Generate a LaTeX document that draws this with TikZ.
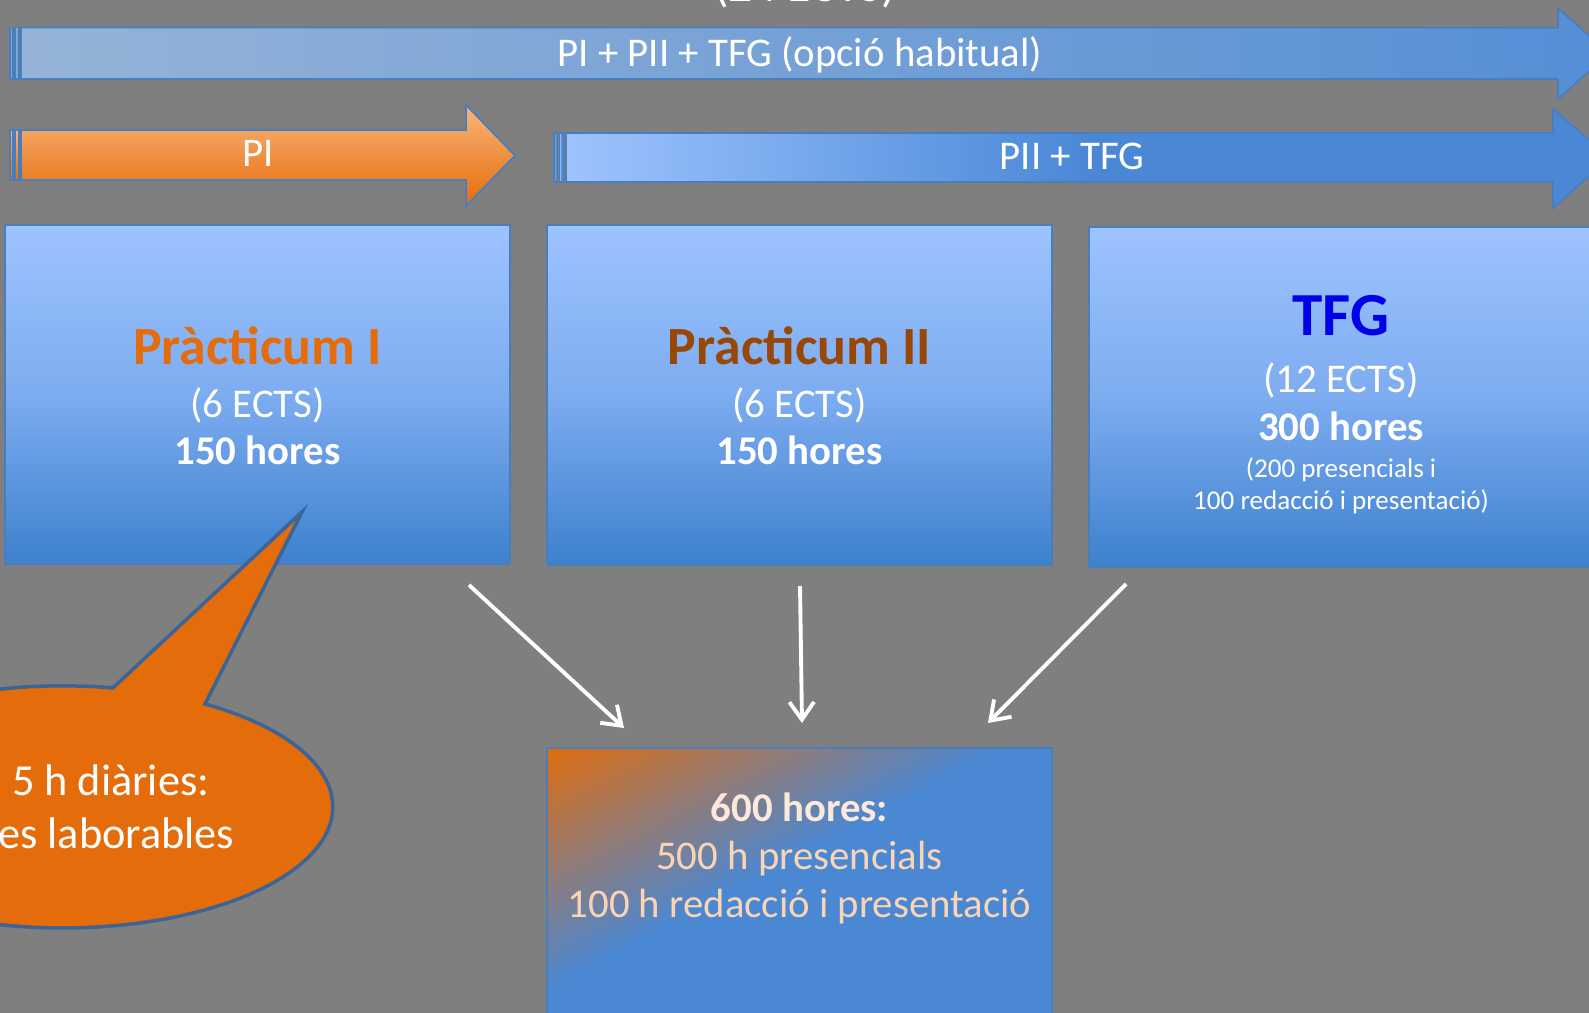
\documentclass[tikz,border=0pt]{standalone}
\usepackage{fontspec}
\setmainfont{Carlito}
\usetikzlibrary{arrows.meta,shadows}
\definecolor{bg}{HTML}{7F7F7F}
\definecolor{edgeblue}{HTML}{4A7EBB}
\definecolor{boxtop}{HTML}{9DC3FF}
\definecolor{boxmid}{HTML}{7DACF0}
\definecolor{boxbot}{HTML}{3D81CD}
\definecolor{orng}{HTML}{E46C0A}
\definecolor{orngl}{HTML}{F9B57A}
\definecolor{brwn}{HTML}{984806}
\definecolor{tfgblue}{HTML}{0000E8}
\definecolor{arrL}{HTML}{95B3D7}
\definecolor{arrR}{HTML}{558ED5}
\definecolor{piiL}{HTML}{9DC3FF}
\definecolor{piiR}{HTML}{4A88D6}
\definecolor{peach}{HTML}{FBD4B4}
\definecolor{peachl}{HTML}{FDE9D9}
\definecolor{totblue}{HTML}{4A88D4}
\definecolor{totmid}{HTML}{A27868}
\definecolor{callborder}{HTML}{3C6494}
\tikzset{
  shd/.style={drop shadow={shadow xshift=0.02cm, shadow yshift=-0.04cm, opacity=0.35}},
  bigbox/.style={draw=edgeblue, line width=0.5pt, top color=boxtop, bottom color=boxbot, middle color=boxmid, inner sep=0pt, outer sep=0pt, anchor=north west, shd},
  conn/.style={draw=white, line width=1.1pt, -{Straight Barb[length=5pt,width=7pt]}},
  lbl/.style={inner sep=0pt, anchor=base, text=white},
  f24/.style={font=\fontsize{11.6pt}{14pt}\selectfont},
  f24b/.style={font=\fontsize{11.6pt}{14pt}\selectfont\bfseries},
  f32b/.style={font=\fontsize{15.3pt}{18pt}\selectfont\bfseries},
  f36b/.style={font=\fontsize{17.4pt}{21pt}\selectfont\bfseries},
  f16/.style={font=\fontsize{7.7pt}{9pt}\selectfont},
  f26/.style={font=\fontsize{12.6pt}{15pt}\selectfont},
  f28/.style={font=\fontsize{13.6pt}{16pt}\selectfont},
  toparr/.style={draw=edgeblue, line width=0.5pt, left color=arrL, right color=arrR, shd},
  piarr/.style={draw=edgeblue, line width=0.5pt, top color=orngl, bottom color=orng, shd},
  piiarr/.style={draw=edgeblue, line width=0.5pt, left color=piiL, right color=piiR, middle color=piiR, shd},
  callout/.style={draw=callborder, line width=1pt, fill=orng}
}
\begin{document}
\begin{tikzpicture}[x=0.01cm,y=0.01cm]
\useasboundingbox (0,0) rectangle (1589,-1013);
\clip (0,0) rectangle (1589,-1013);
\fill[bg] (0,0) rectangle (1589,-1013);

% cut-off title
\node[lbl, f28, drop shadow={shadow xshift=0.02cm, shadow yshift=-0.02cm, opacity=0.5}] (ttl) at (805,-2) {(24 ECTS)};

% top striped arrow
\path[toparr] (10,-27.4) rectangle (13,-79);
\path[toparr] (15,-27.4) rectangle (19,-79);
\path[toparr] (21,-27.4) -- (1558,-27.4) -- (1558,-8) -- (1609,-53.5) -- (1558,-99) -- (1558,-79) -- (21,-79) -- cycle;
\node[lbl, f24] (toplbl) at (800,-67) {PI + PII + TFG (opció habitual)};

% PI arrow
\path[piarr] (10,-130) rectangle (13,-180);
\path[piarr] (15,-130) rectangle (19,-180);
\path[piarr] (21,-130) -- (466,-130) -- (466,-105) -- (515,-155.5) -- (466,-206) -- (466,-180) -- (21,-180) -- cycle;
\node[lbl, f24] (pilbl) at (258,-167) {PI};

% PII + TFG arrow
\path[piiarr] (554,-133) rectangle (557.5,-182);
\path[piiarr] (559.5,-133) rectangle (563.5,-182);
\path[piiarr] (566,-133) -- (1553,-133) -- (1553,-109) -- (1610,-157.5) -- (1553,-208) -- (1553,-182) -- (566,-182) -- cycle;
\node[lbl, f24] (piilbl) at (1072,-170) {PII + TFG};

% boxes
\node[bigbox, minimum width=5.05cm, minimum height=3.39cm] (box1) at (5,-225) {};
\node[bigbox, minimum width=5.05cm, minimum height=3.40cm] (box2) at (547,-225) {};
\node[bigbox, minimum width=5.11cm, minimum height=3.40cm] (box3) at (1089,-227) {};

\node[lbl, f32b, text=orng] (p1t) at (257.5,-365) {Pràcticum I};
\node[lbl, f24] (p1e) at (257.5,-418) {(6 ECTS)};
\node[lbl, f24b] (p1h) at (257.5,-465) {150 hores};

\node[lbl, f32b, text=brwn] (p2t) at (799.5,-365) {Pràcticum II};
\node[lbl, f24] (p2e) at (799.5,-418) {(6 ECTS)};
\node[lbl, f24b] (p2h) at (799.5,-465) {150 hores};

\node[lbl, f36b, text=tfgblue] (tt) at (1341,-336) {TFG};
\node[lbl, f24] (te) at (1341,-393) {(12 ECTS)};
\node[lbl, f24b] (th) at (1341,-441) {300 hores};
\node[lbl, f16] (td1) at (1341,-477) {(200 presencials i};
\node[lbl, f16] (td2) at (1341,-509) {100 redacció i presentació)};

% total box
\node[draw=edgeblue, line width=0.5pt, fill=totblue, inner sep=0pt, outer sep=0pt, anchor=north west, minimum width=5.05cm, minimum height=2.82cm, shd] (tot) at (547,-748) {};
\begin{scope}
  \clip (tot.south west) rectangle (tot.north east);
  \begin{scope}[transform canvas={shift={(547,-748)}, rotate=-62}]
    \shade[left color=orng, middle color=totmid, right color=totblue] (-5,-900) rectangle (215,900);
  \end{scope}
\end{scope}
\draw[edgeblue, line width=0.5pt] (tot.south west) rectangle (tot.north east);
\node[lbl, f24b, text=peachl] (h600) at (799.5,-821) {600 hores:};
\node[lbl, f24, text=peach] (h500) at (799.5,-869.5) {500 h presencials};
\node[lbl, f24, text=peach] (h100) at (799.5,-917) {100 h redacció i presentació};

% connectors
\coordinate (a1s) at (469,-585);
\coordinate (a1e) at (624,-728);
\coordinate (a2s) at (800,-586);
\coordinate (a2e) at (802,-723);
\coordinate (a3s) at (1126,-584);
\coordinate (a3e) at (988,-723);
\draw[conn] (a1s) -- (a1e);
\draw[conn] (a2s) -- (a2e);
\draw[conn] (a3s) -- (a3e);

% callout
\draw[callout] (205,-704) arc[start angle=58.2, end angle=-280.7, x radius=2.70cm, y radius=1.21cm] -- (302,-512) -- cycle;
\node[f26, text=white, inner sep=0pt, anchor=base east] (c1) at (210,-795.5) {5 h diàries:};
\node[f26, text=white, inner sep=0pt, anchor=base east] (c2) at (235,-848) {es laborables};
\end{tikzpicture}
\end{document}
